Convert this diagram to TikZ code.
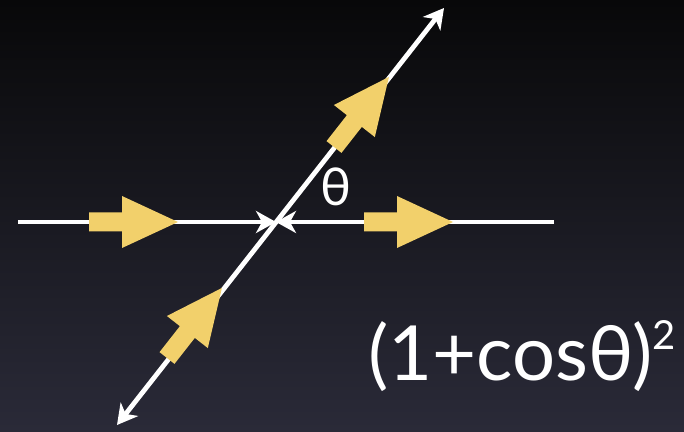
\documentclass[tikz,border=0pt]{standalone}
\usepackage{fontspec}
\setmainfont{Lato}
\usetikzlibrary{arrows.meta}
\definecolor{flowyellow}{RGB}{242,208,107}
\definecolor{bgtop}{RGB}{8,8,9}
\definecolor{bgbottom}{RGB}{42,42,56}
\tikzset{
  leg/.style={white, line width=4.8pt, line cap=butt},
  flow/.pic={\fill[flowyellow] (0,-9.5) -- (33,-9.5) -- (33,-26) -- (89,0) -- (33,26) -- (33,9.5) -- (0,9.5) -- cycle;}
}
\begin{document}
\begin{tikzpicture}[x=1pt, y=1pt, >={Stealth[length=20pt, width=22pt, inset=6pt]}]
  \useasboundingbox (0,0) rectangle (684,431);
  \shade[top color=bgtop, bottom color=bgbottom] (0,0) rectangle (684,431);

  % vertex and leg ends
  \coordinate (C) at (276,209);
  \coordinate (L) at (18,209);
  \coordinate (R) at (554,209);
  \coordinate (T) at (444,423);
  \coordinate (B) at (117,6);

  \draw[leg, ->] (L) -- (C);
  \draw[leg, ->] (R) -- (C);
  \draw[leg, <->] (B) -- (T);

  % momentum flow
  \pic at (89,209) {flow};
  \pic at (364,209) {flow};
  \pic[rotate=51.9] at (334,284) {flow};
  \pic[rotate=51.9] at (167,73) {flow};

  \node[white, font=\fontsize{52}{52}\selectfont] (theta) at (336,244) {θ};
  \node[white, anchor=base west, inner sep=0pt, font=\fontsize{76}{80}\selectfont] (amp) at (368,51)
    {(1+cosθ)\raisebox{0.40em}{\fontsize{40}{40}\selectfont 2}};
\end{tikzpicture}
\end{document}
